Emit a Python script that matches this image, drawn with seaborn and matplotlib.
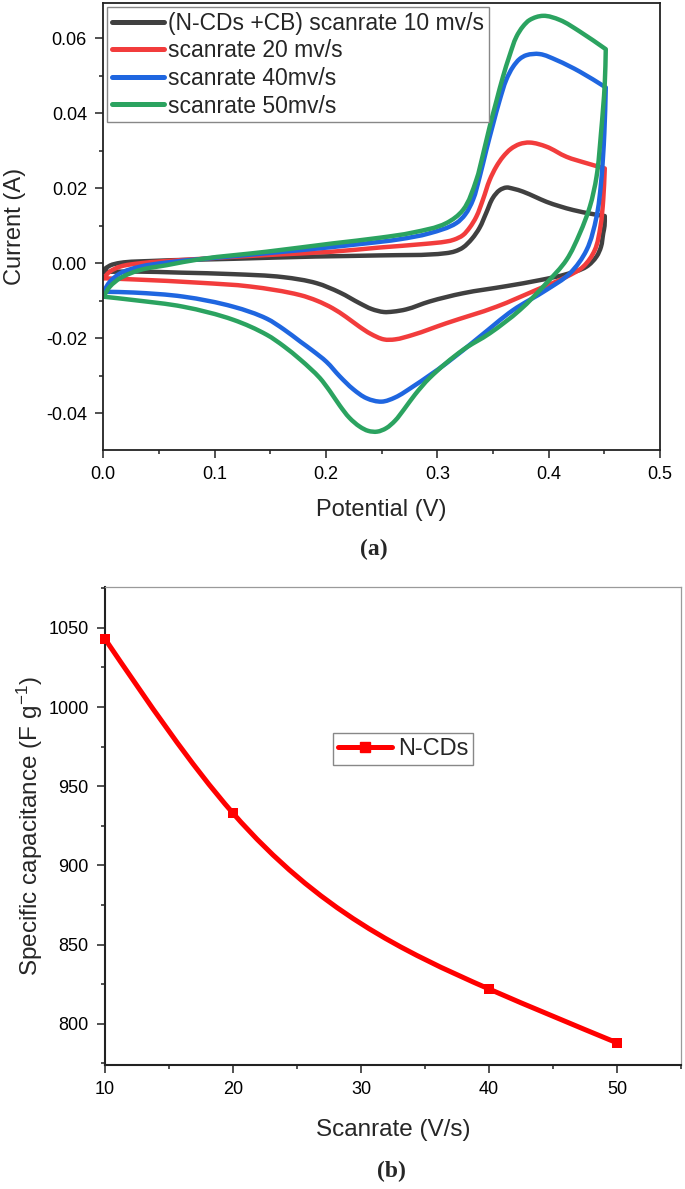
import numpy as np
import matplotlib
matplotlib.use("Agg")
import matplotlib.pyplot as plt
import seaborn as sns
from matplotlib.path import Path
from matplotlib.patches import PathPatch
from matplotlib.lines import Line2D
from matplotlib.ticker import MultipleLocator, FormatStrFormatter

# ---- (a) cyclic voltammograms ----
# each loop: forward sweep 0 -> 0.45 V, then reverse sweep back to 0 V
v10 = [0.0, 0.006, 0.015, 0.042, 0.117, 0.19, 0.248, 0.308, 0.316, 0.323, 0.331, 0.338,
       0.344, 0.350, 0.356, 0.362, 0.368, 0.377, 0.388, 0.398, 0.410, 0.422, 0.440, 0.4504,
       0.4502, 0.449, 0.447, 0.443, 0.434, 0.416, 0.392, 0.362, 0.323, 0.293, 0.272, 0.260,
       0.252, 0.241, 0.2305, 0.2125, 0.1915, 0.1616, 0.1167, 0.070, 0.027, 0.0]
i10 = [-0.0018, -0.0006, 0.0001, 0.0006, 0.0012, 0.0018, 0.0021, 0.0027, 0.0032, 0.0042, 0.0065, 0.0095,
       0.0135, 0.0175, 0.0195, 0.0202, 0.0199, 0.0191, 0.0177, 0.0164, 0.0152, 0.0142, 0.0131, 0.0126,
       0.0100, 0.0080, 0.0044, 0.0018, -0.0009, -0.0029, -0.0045, -0.0061, -0.0080, -0.0102, -0.0123, -0.0129,
       -0.0130, -0.0122, -0.0107, -0.0078, -0.0053, -0.0037, -0.0029, -0.0025, -0.0022, -0.0023]

v20 = [0.0, 0.006, 0.015, 0.033, 0.072, 0.147, 0.206, 0.248, 0.290, 0.308, 0.315, 0.323, 0.329,
       0.335, 0.341, 0.347, 0.353, 0.359, 0.366, 0.374, 0.383, 0.398, 0.416, 0.434, 0.4504,
       0.449, 0.4465, 0.4414, 0.431, 0.416, 0.389, 0.353, 0.308, 0.278, 0.262, 0.252, 0.240,
       0.230, 0.218, 0.206, 0.192, 0.177, 0.132, 0.087, 0.027, 0.0]
i20 = [-0.0040, -0.0022, -0.0009, 0.0, 0.0009, 0.0022, 0.0031, 0.0042, 0.0052, 0.0058, 0.0063, 0.0075, 0.0095,
       0.0124, 0.0170, 0.0222, 0.0258, 0.0284, 0.0305, 0.0318, 0.0322, 0.0311, 0.0284, 0.0267, 0.0253,
       0.0169, 0.0098, 0.0035, -0.0009, -0.0036, -0.0071, -0.0116, -0.0160, -0.0191, -0.0203, -0.0203, -0.0188,
       -0.0169, -0.0143, -0.0120, -0.0100, -0.0085, -0.0062, -0.0052, -0.0043, -0.0040]

v40 = [0.0, 0.006, 0.015, 0.033, 0.057, 0.117, 0.177, 0.236, 0.266, 0.293, 0.317, 0.325, 0.332,
       0.338, 0.344, 0.350, 0.356, 0.362, 0.368, 0.374, 0.380, 0.392, 0.407, 0.428, 0.4513,
       0.450, 0.447, 0.443, 0.434, 0.419, 0.398, 0.368, 0.338, 0.308, 0.278, 0.262, 0.250,
       0.2365, 0.2245, 0.2125, 0.2005, 0.188, 0.177, 0.162, 0.147, 0.117, 0.072, 0.027, 0.0]
i40 = [-0.0076, -0.0049, -0.0027, -0.0009, 0.0002, 0.0019, 0.0035, 0.0053, 0.0064, 0.0080, 0.0107, 0.0130, 0.0169,
       0.0230, 0.0302, 0.0370, 0.0435, 0.0490, 0.0524, 0.0545, 0.0555, 0.0558, 0.0542, 0.0511, 0.0469,
       0.0347, 0.0213, 0.0124, 0.0035, -0.0027, -0.0071, -0.0125, -0.0196, -0.0267, -0.0329, -0.0358, -0.0369,
       -0.0360, -0.0336, -0.0302, -0.0263, -0.0233, -0.0209, -0.0176, -0.0148, -0.0116, -0.0089, -0.0078, -0.0076]

v50 = [0.0, 0.006, 0.015, 0.033, 0.057, 0.087, 0.147, 0.206, 0.248, 0.278, 0.308, 0.323, 0.335,
       0.341, 0.347, 0.353, 0.359, 0.365, 0.371, 0.377, 0.383, 0.395, 0.410, 0.428, 0.4513,
       0.4504, 0.447, 0.443, 0.437, 0.428, 0.416, 0.398, 0.374, 0.347, 0.323, 0.293, 0.280,
       0.270, 0.262, 0.254, 0.246, 0.238, 0.2305, 0.221, 0.2125, 0.2035, 0.1945, 0.186, 0.177,
       0.162, 0.147, 0.117, 0.072, 0.027, 0.0]
i50 = [-0.0089, -0.0062, -0.0040, -0.0018, -0.0005, 0.0011, 0.0031, 0.0053, 0.0068, 0.0082, 0.0107, 0.0142, 0.0222,
       0.0290, 0.0364, 0.0432, 0.0498, 0.0555, 0.0604, 0.0632, 0.0649, 0.0660, 0.0649, 0.0618, 0.0571,
       0.0480, 0.0347, 0.0231, 0.0151, 0.0080, 0.0009, -0.0053, -0.0125, -0.0187, -0.0231, -0.0306, -0.0350,
       -0.0390, -0.0420, -0.0440, -0.0449, -0.0447, -0.0436, -0.0412, -0.0380, -0.0341, -0.0306, -0.0281, -0.0257,
       -0.0221, -0.0191, -0.0151, -0.0116, -0.0098, -0.0089]

cv_labels = ["(N-CDs +CB) scanrate 10 mv/s", "scanrate 20 mv/s", "scanrate 40mv/s", "scanrate 50mv/s"]
cv_colors = ["#404040", "#f23c3c", "#1f66e0", "#2ba360"]

# ---- (b) specific capacitance vs scan rate ----
scan_rate = [10, 20, 40, 50]
capacitance = [1043, 933, 822, 788]

sns.set_style("ticks")
plt.rcParams["font.family"] = ["Liberation Sans", "DejaVu Sans"]
plt.rcParams["mathtext.fontset"] = "custom"
plt.rcParams["mathtext.rm"] = "Liberation Sans"
plt.rcParams["mathtext.default"] = "regular"
plt.rcParams["axes.unicode_minus"] = False

W, H = 685, 1189
fig = plt.figure(figsize=(W / 100, H / 100), dpi=100)


def frac(l, t, r, b):
    return [l / W, 1 - b / H, (r - l) / W, (b - t) / H]


def style_ticks(ax, size):
    ax.tick_params(which="both", direction="out", top=False, right=False,
                   width=1.1, colors="#222222", labelcolor="black", labelsize=size, pad=6)
    ax.tick_params(which="major", length=5.8)
    ax.tick_params(which="minor", length=3)


def smooth_path(xs, ys, kx, ky, corner=0.55):
    # smooth curve through the measured points (Bezier segments), sharp where the sweep reverses
    P = np.column_stack([np.asarray(xs, float) * kx, np.asarray(ys, float) * ky])
    seg = np.diff(P, axis=0)
    L = np.hypot(seg[:, 0], seg[:, 1])
    u = seg / L[:, None]
    n = len(P)
    tin = np.zeros_like(P)
    tout = np.zeros_like(P)
    tin[0] = tout[0] = u[0]
    tin[-1] = tout[-1] = u[-1]
    for k in range(1, n - 1):
        if np.dot(u[k - 1], u[k]) < corner:
            tin[k], tout[k] = u[k - 1], u[k]
        else:
            t = u[k - 1] + u[k]
            tin[k] = tout[k] = t / np.hypot(*t)
    verts = [P[0]]
    codes = [Path.MOVETO]
    for k in range(n - 1):
        d = L[k] / 3
        verts += [P[k] + tout[k] * d, P[k + 1] - tin[k + 1] * d, P[k + 1]]
        codes += [Path.CURVE4] * 3
    V = np.array(verts)
    V[:, 0] /= kx
    V[:, 1] /= ky
    return Path(V, codes)


# ---------- panel (a) ----------
ax1 = fig.add_axes(frac(103.3, 2.7, 660, 450))
curves = [(v10, i10), (v20, i20), (v40, i40), (v50, i50)]
handles = []
for (v, i), lab, col in zip(curves, cv_labels, cv_colors):
    ax1.add_patch(PathPatch(smooth_path(v, i, 1114, 3750), fill=False, edgecolor=col,
                            lw=3.2, capstyle="round", joinstyle="round"))
    handles.append(Line2D([], [], color=col, lw=3.6))

ax1.set_xlim(0, 0.5)
ax1.set_ylim(-0.0498, 0.0695)
ax1.xaxis.set_major_locator(MultipleLocator(0.1))
ax1.xaxis.set_minor_locator(MultipleLocator(0.05))
ax1.yaxis.set_major_locator(MultipleLocator(0.02))
ax1.yaxis.set_minor_locator(MultipleLocator(0.01))
ax1.xaxis.set_major_formatter(FormatStrFormatter("%.1f"))
ax1.yaxis.set_major_formatter(FormatStrFormatter("%.2f"))
style_ticks(ax1, 13)
for s in ax1.spines.values():
    s.set_linewidth(1.3)
    s.set_color("#222222")
ax1.set_xlabel("Potential (V)", fontsize=17, labelpad=11)
ax1.set_ylabel("Current (A)", fontsize=17)
ax1.yaxis.set_label_coords(-0.139, 0.5)

leg1 = ax1.legend(handles, cv_labels, loc="upper left", bbox_to_anchor=(0.0066, 0.990),
                  borderaxespad=0, fontsize=16.5, frameon=True, fancybox=False,
                  edgecolor="#888888", framealpha=1, borderpad=0.2, labelspacing=0.2,
                  handlelength=2.27, handletextpad=0.2)
leg1.get_frame().set_linewidth(1.0)

fig.text(374 / W, 1 - 549 / H, "(a)", fontsize=17, fontweight="bold",
         family=["Liberation Serif", "DejaVu Serif"], ha="center", va="center")

# ---------- panel (b) ----------
ax2 = fig.add_axes(frac(105, 586.7, 681, 1065))

# natural cubic spline through the points, drawn as Bezier segments
sx = np.array(scan_rate, float)
sy = np.array(capacitance, float)
hh = np.diff(sx)
sec = np.diff(sy) / hh
n = len(sx)
A = np.zeros((n, n))
rhs = np.zeros(n)
A[0, 0] = A[-1, -1] = 1
for k in range(1, n - 1):
    A[k, k - 1] = hh[k - 1]
    A[k, k] = 2 * (hh[k - 1] + hh[k])
    A[k, k + 1] = hh[k]
    rhs[k] = 6 * (sec[k] - sec[k - 1])
M = np.linalg.solve(A, rhs)
slope = np.empty(n)
slope[:-1] = sec - hh * (2 * M[:-1] + M[1:]) / 6
slope[-1] = sec[-1] + hh[-1] * (M[-2] + 2 * M[-1]) / 6
verts = [(sx[0], sy[0])]
codes = [Path.MOVETO]
for k in range(n - 1):
    d = hh[k] / 3
    verts += [(sx[k] + d, sy[k] + slope[k] * d),
              (sx[k + 1] - d, sy[k + 1] - slope[k + 1] * d),
              (sx[k + 1], sy[k + 1])]
    codes += [Path.CURVE4] * 3
ax2.add_patch(PathPatch(Path(verts, codes), fill=False, edgecolor="red", lw=3.6,
                        capstyle="round", joinstyle="round", zorder=2))
sns.scatterplot(x=sx, y=sy, marker="s", s=45, color="red", edgecolor="red",
                linewidth=0, ax=ax2, zorder=3, clip_on=False)

ax2.set_xlim(10, 55)
ax2.set_ylim(774, 1076)
ax2.xaxis.set_major_locator(MultipleLocator(10))
ax2.xaxis.set_minor_locator(MultipleLocator(5))
ax2.yaxis.set_major_locator(MultipleLocator(50))
ax2.yaxis.set_minor_locator(MultipleLocator(25))
style_ticks(ax2, 13)
for side in ["left", "bottom"]:
    ax2.spines[side].set_linewidth(1.5)
    ax2.spines[side].set_color("#222222")
for side in ["top", "right"]:
    ax2.spines[side].set_linewidth(0.9)
    ax2.spines[side].set_color("#9a9a9a")
ax2.set_xlabel("Scanrate (V/s)", fontsize=17.5, labelpad=15)
ax2.set_ylabel("Specific capacitance (F g$^{-1}$)", fontsize=17.5)
ax2.yaxis.set_label_coords(-0.104, 0.5)

proxy = Line2D([], [], color="red", lw=3.6, marker="s", markersize=6.5)
leg2 = ax2.legend([proxy], ["N-CDs"], loc="upper left", bbox_to_anchor=(0.396, 0.694),
                  borderaxespad=0, fontsize=17, frameon=True, fancybox=False,
                  edgecolor="#888888", framealpha=1, borderpad=0.2, handlelength=2.3,
                  handletextpad=0.25)
leg2.get_frame().set_linewidth(1.0)

fig.text(391 / W, 1 - 1171 / H, "(b)", fontsize=17, fontweight="bold",
         family=["Liberation Serif", "DejaVu Serif"], ha="center", va="center")

fig.savefig("out.png", dpi=100)
